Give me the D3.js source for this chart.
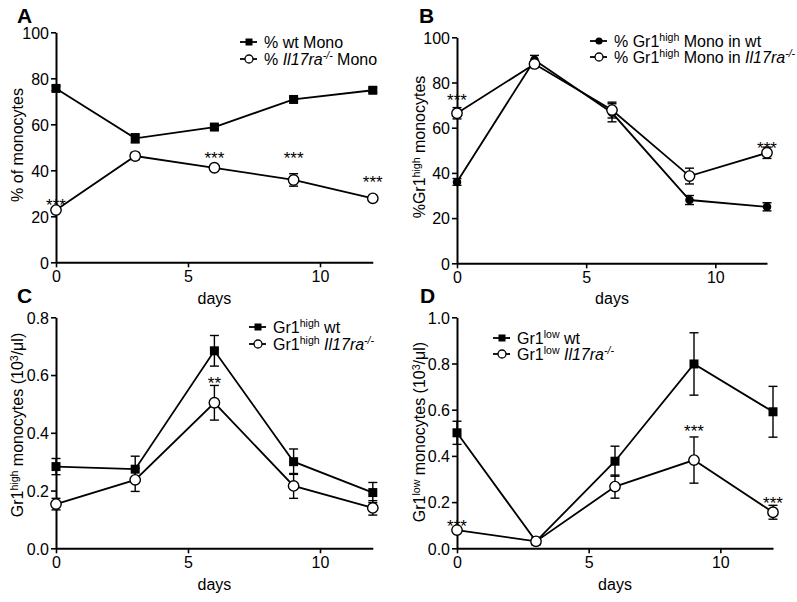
<!DOCTYPE html>
<html>
<head>
<meta charset="utf-8">
<script src="https://cdn.jsdelivr.net/npm/d3@7"></script>
<style>
  html, body { margin: 0; padding: 0; background: #fff; }
  svg text { font-family: "Liberation Sans", Arial, Helvetica, sans-serif; fill: #000; }
</style>
</head>
<body>
<svg id="chart" width="797" height="602"></svg>
<script>
// ---------- DATA ----------
const days = [0, 3, 6, 9, 12];
const xTicks = [0, 5, 10];

// Panel A: % of monocytes
const aWt = [75.6, 53.9, 58.8, 70.8, 74.8];
const aWtErr = [1, 2, 1, 1, 1];
const aKo = [22.7, 46.2, 41.1, 35.8, 27.8];
const aKoErr = [1, 1.5, 0.8, 2.7, 0.8];
const aStars = [[0, 26.2, "***"], [6, 46.7, "***"], [9, 46.7, "***"], [12, 36.2, "***"]];
const aTicks = [0, 20, 40, 60, 80, 100];

// Panel B: % Gr1high monocytes
const bWt = [36, 90, 66.6, 28, 25];
const bWtErr = [1.5, 2, 4, 2, 1.8];
const bKo = [66.4, 88.2, 67.8, 38.6, 48.9];
const bKoErr = [2.5, 1.5, 3.5, 3.5, 2.5];
const bStars = [[0, 73.7, "***"], [12, 52.2, "***"]];
const bTicks = [0, 20, 40, 60, 80, 100];

// Panel C: Gr1high monocytes (10^3/ul)
const cWt = [0.283, 0.274, 0.684, 0.300, 0.193];
const cWtErr = [0.028, 0.045, 0.053, 0.044, 0.035];
const cKo = [0.153, 0.237, 0.504, 0.216, 0.140];
const cKoErr = [0.02, 0.04, 0.06, 0.043, 0.025];
const cStars = [[6, 0.583, "**"]];
const cTicks = [0, 0.2, 0.4, 0.6, 0.8];

// Panel D: Gr1low monocytes (10^3/ul)
const dWt = [0.50, 0.03, 0.377, 0.798, 0.591];
const dWtErr = [0.05, 0.01, 0.065, 0.135, 0.11];
const dKo = [0.079, 0.03, 0.267, 0.382, 0.156];
const dKoErr = [0.01, 0.005, 0.05, 0.10, 0.03];
const dStars = [[0, 0.11, "***"], [9, 0.521, "***"], [12, 0.209, "***"]];
const dTicks = [0, 0.2, 0.4, 0.6, 0.8, 1.0];

// ---------- LAYOUT ----------
const svg = d3.select("#chart");

const panels = [
  { label: "A", lx: 17, ly: 23, x: [56, 372.8], y: [262.3, 32.3], dom: [0, 100], ticks: aTicks, fmt: d3.format("d"),
    wt: aWt, wtErr: aWtErr, ko: aKo, koErr: aKoErr, stars: aStars, wtShape: "square",
    yTitle: [{t: "% of monocytes"}], yTitleX: 23, yTitleY: 145, xTitleY: 304,
    legend: { x: 249, y: 42, dy: 17, rows: [
      [{t: "% wt Mono"}],
      [{t: "% "}, {t: "Il17ra", i: true}, {t: "-/-", i: true, sup: true}, {t: " Mono"}]
    ]}},
  { label: "B", lx: 419, ly: 23, x: [457, 767], y: [263.3, 37.3], dom: [0, 100], ticks: bTicks, fmt: d3.format("d"),
    wt: bWt, wtErr: bWtErr, ko: bKo, koErr: bKoErr, stars: bStars, wtShape: "circle",
    yTitle: [{t: "%Gr1"}, {t: "high", sup: true}, {t: " monocytes"}], yTitleX: 425, yTitleY: 147, xTitleY: 304,
    legend: { x: 599, y: 41, dy: 16, rows: [
      [{t: "% Gr1"}, {t: "high", sup: true}, {t: " Mono in wt"}],
      [{t: "% Gr1"}, {t: "high", sup: true}, {t: " Mono in "}, {t: "Il17ra", i: true}, {t: "-/-", i: true, sup: true}]
    ]}},
  { label: "C", lx: 17, ly: 303, x: [56, 372.8], y: [548.3, 317.3], dom: [0, 0.8], ticks: cTicks, fmt: d3.format(".1f"),
    wt: cWt, wtErr: cWtErr, ko: cKo, koErr: cKoErr, stars: cStars, wtShape: "square",
    yTitle: [{t: "Gr1"}, {t: "high", sup: true}, {t: " monocytes (10"}, {t: "3", sup: true}, {t: "/\u03bcl)"}], yTitleX: 23, yTitleY: 425, xTitleY: 590,
    legend: { x: 258, y: 327, dy: 17, rows: [
      [{t: "Gr1"}, {t: "high", sup: true}, {t: " wt"}],
      [{t: "Gr1"}, {t: "high", sup: true}, {t: " "}, {t: "Il17ra", i: true}, {t: "-/-", i: true, sup: true}]
    ]}},
  { label: "D", lx: 420, ly: 303, x: [457, 773], y: [548.3, 317.3], dom: [0, 1.0], ticks: dTicks, fmt: d3.format(".1f"),
    wt: dWt, wtErr: dWtErr, ko: dKo, koErr: dKoErr, stars: dStars, wtShape: "square",
    yTitle: [{t: "Gr1"}, {t: "low", sup: true}, {t: " monocytes (10"}, {t: "3", sup: true}, {t: "/\u03bcl)"}], yTitleX: 425, yTitleY: 432, xTitleY: 590,
    legend: { x: 502, y: 338, dy: 16, rows: [
      [{t: "Gr1"}, {t: "low", sup: true}, {t: " wt"}],
      [{t: "Gr1"}, {t: "low", sup: true}, {t: " "}, {t: "Il17ra", i: true}, {t: "-/-", i: true, sup: true}]
    ]}}
];

function richText(sel, parts, size) {
  parts.forEach((p, k) => {
    const prev = k > 0 ? parts[k - 1] : null;
    const ts = sel.append("tspan").text(p.t);
    if (p.i) ts.attr("font-style", "italic");
    if (p.sup) {
      ts.attr("font-size", size * 0.66).attr("dy", -size * 0.34);
    } else if (prev && prev.sup) {
      ts.attr("dy", size * 0.34);
    }
  });
}

function marker(g, shape, cx, cy, filled) {
  if (shape === "square") {
    g.append("rect").attr("x", cx - 4.5).attr("y", cy - 4.5).attr("width", 9).attr("height", 9)
      .attr("fill", "#000");
  } else if (filled) {
    g.append("circle").attr("cx", cx).attr("cy", cy).attr("r", 4.3).attr("fill", "#000");
  } else {
    g.append("circle").attr("cx", cx).attr("cy", cy).attr("r", 5.2)
      .attr("fill", "#fff").attr("stroke", "#000").attr("stroke-width", 1.4);
  }
}

panels.forEach(p => {
  const g = svg.append("g");
  const x = d3.scaleLinear().domain([0, 12]).range(p.x);
  const y = d3.scaleLinear().domain(p.dom).range(p.y);

  // axes
  const xa = g.append("g").attr("transform", `translate(0,${p.y[0]})`)
    .call(d3.axisBottom(x).tickValues(xTicks).tickSize(5).tickSizeOuter(0).tickPadding(3));
  const ya = g.append("g").attr("transform", `translate(${p.x[0]},0)`)
    .call(d3.axisLeft(y).tickValues(p.ticks).tickFormat(p.fmt).tickSize(5).tickSizeOuter(0).tickPadding(2));
  [xa, ya].forEach(a => {
    a.select(".domain").attr("stroke", "#000").attr("stroke-width", 2);
    a.selectAll(".tick line").attr("stroke", "#000").attr("stroke-width", 1.6);
    a.selectAll(".tick text").attr("font-size", 16).attr("fill", "#000")
      .attr("font-family", "'Liberation Sans', Arial, sans-serif");
  });
  ya.selectAll(".tick text").attr("dy", "0.36em");

  // panel label
  g.append("text").attr("x", p.lx).attr("y", p.ly).attr("font-size", 21).attr("font-weight", "bold").text(p.label);

  // axis titles
  const yt = g.append("text").attr("text-anchor", "middle").attr("font-size", 16)
    .attr("transform", `translate(${p.yTitleX},${p.yTitleY}) rotate(-90)`);
  richText(yt, p.yTitle, 16);
  g.append("text").attr("text-anchor", "middle").attr("font-size", 16)
    .attr("x", x(6)).attr("y", p.xTitleY).text("days");

  const line = d3.line().x((d, i) => x(days[i])).y(d => y(d));

  const series = [
    { v: p.wt, e: p.wtErr, shape: p.wtShape, filled: true },
    { v: p.ko, e: p.koErr, shape: "circle", filled: false }
  ];

  series.forEach(s => {
    g.append("path").datum(s.v).attr("d", line).attr("fill", "none")
      .attr("stroke", "#000").attr("stroke-width", 1.8);
  });
  series.forEach(s => {
    s.v.forEach((v, i) => {
      const cx = x(days[i]);
      const y1 = y(v + s.e[i]), y2 = y(v - s.e[i]);
      g.append("line").attr("x1", cx).attr("x2", cx).attr("y1", y1).attr("y2", y2)
        .attr("stroke", "#000").attr("stroke-width", 1.4);
      [y1, y2].forEach(yy => g.append("line").attr("x1", cx - 4.5).attr("x2", cx + 4.5)
        .attr("y1", yy).attr("y2", yy).attr("stroke", "#000").attr("stroke-width", 1.4));
    });
  });
  series.forEach(s => {
    s.v.forEach((v, i) => marker(g, s.shape, x(days[i]), y(v), s.filled));
  });

  // significance stars
  p.stars.forEach(st => {
    g.append("text").attr("text-anchor", "middle").attr("font-size", 17)
      .attr("x", x(st[0])).attr("y", y(st[1]) + 9).text(st[2]);
  });

  // legend
  const L = p.legend;
  L.rows.forEach((row, r) => {
    const ly = L.y + r * L.dy;
    g.append("line").attr("x1", L.x - 9).attr("x2", L.x + 8).attr("y1", ly).attr("y2", ly)
      .attr("stroke", "#000").attr("stroke-width", 1.8);
    const s = series[r];
    if (s.shape === "square") {
      g.append("rect").attr("x", L.x - 3.5).attr("y", ly - 3.5).attr("width", 7).attr("height", 7).attr("fill", "#000");
    } else if (s.filled) {
      g.append("circle").attr("cx", L.x).attr("cy", ly).attr("r", 3.6).attr("fill", "#000");
    } else {
      g.append("circle").attr("cx", L.x).attr("cy", ly).attr("r", 4).attr("fill", "#fff")
        .attr("stroke", "#000").attr("stroke-width", 1.3);
    }
    const t = g.append("text").attr("x", L.x + 15).attr("y", ly + 5.5).attr("font-size", 16);
    richText(t, row, 16);
  });
});
</script>
</body>
</html>
